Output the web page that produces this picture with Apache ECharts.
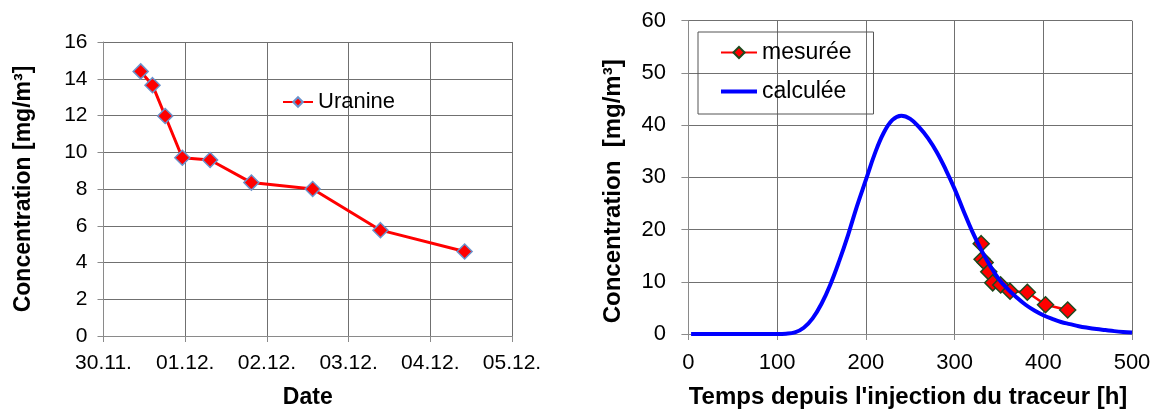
<!DOCTYPE html>
<html>
<head>
<meta charset="utf-8">
<script src="https://cdn.jsdelivr.net/npm/echarts@6/dist/echarts.min.js"></script>
<style>
html,body{margin:0;padding:0;background:#fff;}
#c{width:1157px;height:414px;}
</style>
</head>
<body>
<div id="c"></div>
<script>
// ---- Left chart data ----
const dateTickLabels = ['30.11.', '01.12.', '02.12.', '03.12.', '04.12.', '05.12.'];
const uranineDays = [0.455, 0.60, 0.755, 0.965, 1.305, 1.81, 2.56, 3.39, 4.42]; // days since 30.11.
const uranineValues = [14.4, 13.65, 11.97, 9.7, 9.58, 8.35, 8.0, 5.76, 4.6];

// ---- Right chart data ----
const hourTicks = [0, 100, 200, 300, 400, 500];
const measuredHours = [330, 331, 334.5, 338.5, 343, 352, 362.5, 382, 402.5, 427.5];
const measuredValues = [17.3, 14.3, 13.7, 11.9, 9.8, 9.4, 8.2, 8.0, 5.6, 4.6];
const calcHours = [3, 10, 20, 30, 40, 50, 60, 70, 80, 90, 100, 110, 120, 130, 140, 150, 160, 170, 180, 190,
  200, 210, 220, 230, 240, 250, 260, 270, 280, 290, 300, 310, 320, 330, 340, 350, 360, 370, 380, 390,
  400, 410, 420, 430, 440, 450, 460, 470, 480, 490, 500];
const calcValues = [0, 0, 0, 0, 0, 0, 0, 0, 0, 0, 0, 0.05, 0.3, 1.2, 3.0, 5.8, 9.5, 14.0, 19.0, 24.5,
  29.5, 34.5, 38.5, 41.0, 41.8, 41.2, 39.6, 37.5, 34.8, 31.5, 27.8, 23.6, 19.6, 16.1, 13.1, 10.5, 8.6, 7.0, 5.6, 4.5,
  3.6, 2.9, 2.3, 1.9, 1.5, 1.2, 0.95, 0.75, 0.55, 0.4, 0.3];

const FONT = 'Liberation Sans, Arial, sans-serif';
const GRID_C = '#707070';
const AXIS_C = '#8a8a8a';

const chart = echarts.init(document.getElementById('c'), null, {renderer: 'canvas'});
chart.setOption({
  animation: false,
  backgroundColor: '#ffffff',
  textStyle: {fontFamily: FONT},
  grid: [
    {left: 103.5, right: 645, top: 42, bottom: 73, containLabel: false},
    {left: 684, right: 25, top: 20.7, bottom: 79.7, containLabel: false}
  ],
  legend: [
    {
      data: ['Uranine'],
      left: 282, top: 91,
      orient: 'vertical',
      itemWidth: 30, itemHeight: 12, itemGap: 4,
      padding: 0,
      textStyle: {fontSize: 22, color: '#000', fontFamily: FONT}
    },
    {
      data: [{name: 'mesurée'}, {name: 'calculée', icon: 'path://M0,0H36V4H0Z'}],
      left: 698, top: 32,
      orient: 'vertical',
      itemWidth: 36, itemHeight: 14, itemGap: 16,
      symbolKeepAspect: true,
      padding: [9, 22, 11, 22],
      borderColor: '#555', borderWidth: 1,
      textStyle: {fontSize: 23, color: '#000', fontFamily: FONT}
    }
  ],
  xAxis: [
    {
      gridIndex: 0, type: 'value', min: 0, max: 5, interval: 1,
      name: 'Date', nameLocation: 'middle', nameGap: 50,
      nameTextStyle: {fontSize: 23, fontWeight: 'bold', color: '#000', fontFamily: FONT},
      axisLine: {show: true, lineStyle: {color: AXIS_C, width: 1}},
      axisTick: {show: true, length: 6, lineStyle: {color: AXIS_C}},
      axisLabel: {fontSize: 21, color: '#000', margin: 17, fontFamily: FONT,
        formatter: (v) => dateTickLabels[Math.round(v)] || ''},
      splitLine: {show: true, lineStyle: {color: GRID_C, width: 1}}
    },
    {
      gridIndex: 1, type: 'value', min: -5, max: 500,
      name: "Temps depuis l'injection du traceur [h]", nameLocation: 'middle', nameGap: 51,
      nameTextStyle: {fontSize: 24, fontWeight: 'bold', color: '#000', fontFamily: FONT},
      axisLine: {show: true, lineStyle: {color: AXIS_C, width: 1}},
      axisTick: {show: true, length: 6, customValues: hourTicks, lineStyle: {color: AXIS_C}},
      axisLabel: {fontSize: 22, color: '#000', margin: 18, customValues: hourTicks, fontFamily: FONT},
      splitLine: {show: true, lineStyle: {color: GRID_C, width: 1}}
    }
  ],
  yAxis: [
    {
      gridIndex: 0, type: 'value', min: 0, max: 16, interval: 2,
      name: 'Concentration [mg/m³]', nameLocation: 'middle', nameGap: 68,
      nameTextStyle: {fontSize: 23, fontWeight: 'bold', color: '#000', fontFamily: FONT},
      axisLine: {show: true, lineStyle: {color: AXIS_C, width: 1}},
      axisTick: {show: true, length: 6, lineStyle: {color: AXIS_C}},
      axisLabel: {fontSize: 21, color: '#000', margin: 16, fontFamily: FONT},
      splitLine: {show: true, lineStyle: {color: GRID_C, width: 1}}
    },
    {
      gridIndex: 1, type: 'value', min: 0, max: 60, interval: 10,
      name: 'Concentration  [mg/m³]', nameLocation: 'middle', nameGap: 59,
      nameTextStyle: {fontSize: 24, fontWeight: 'bold', color: '#000', fontFamily: FONT, padding: [0, 28, 0, 0]},
      axisLine: {show: true, lineStyle: {color: AXIS_C, width: 1}},
      axisTick: {show: true, length: 7, lineStyle: {color: AXIS_C}},
      axisLabel: {fontSize: 22, color: '#000', margin: 18, fontFamily: FONT},
      splitLine: {show: true, lineStyle: {color: GRID_C, width: 1}}
    }
  ],
  series: [
    {
      name: 'Uranine', type: 'line', xAxisIndex: 0, yAxisIndex: 0,
      data: uranineDays.map((d, i) => [d, uranineValues[i]]),
      symbol: 'diamond', symbolSize: 15,
      lineStyle: {color: '#ff0000', width: 3},
      itemStyle: {color: '#ff0000', borderColor: '#6a92cc', borderWidth: 1.5},
      z: 3
    },
    {
      name: 'calculée', type: 'line', xAxisIndex: 1, yAxisIndex: 1,
      data: calcHours.map((h, i) => [h, calcValues[i]]),
      showSymbol: false, symbol: 'none', smooth: 0.4,
      lineStyle: {color: '#0000ff', width: 4},
      itemStyle: {color: '#0000ff'},
      z: 4
    },
    {
      name: 'mesurée', type: 'line', xAxisIndex: 1, yAxisIndex: 1,
      data: measuredHours.map((h, i) => [h, measuredValues[i]]),
      symbol: 'diamond', symbolSize: 16,
      lineStyle: {color: '#ff0000', width: 2.5},
      itemStyle: {color: '#ff0000', borderColor: '#1e4a1e', borderWidth: 1.5},
      z: 3
    }
  ]
});
</script>
</body>
</html>
